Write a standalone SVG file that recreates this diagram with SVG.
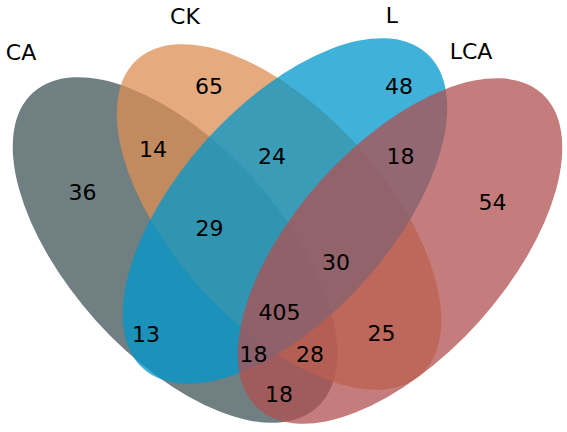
<svg xmlns="http://www.w3.org/2000/svg" width="567" height="432" viewBox="0 0 567 432">
<style>
  text { font-family: "DejaVu Sans", "Liberation Sans", sans-serif; font-size: 22px; fill: #000; text-anchor: middle; }
  .set { fill-opacity: 0.75; stroke: none; }
</style>
<rect width="567" height="432" fill="#fff"/>
<g id="set-CA"><ellipse class="set" cx="175" cy="250" rx="212" ry="106" transform="rotate(48 175 250)" fill="#3f5458"/></g>
<g id="set-CK"><ellipse class="set" cx="279" cy="217" rx="212" ry="106" transform="rotate(48 279 217)" fill="#dc8d53"/></g>
<g id="set-L"><ellipse class="set" cx="285" cy="211" rx="212" ry="106" transform="rotate(-48 285 211)" fill="#0097cb"/></g>
<g id="set-LCA"><ellipse class="set" cx="400" cy="251" rx="212" ry="106" transform="rotate(-48 400 251)" fill="#b05050"/></g>
<g id="labels">
  <text x="21" y="60">CA</text>
  <text x="185" y="24">CK</text>
  <text x="392" y="23">L</text>
  <text x="471" y="59">LCA</text>
</g>
<g id="counts">
  <text x="209" y="94">65</text>
  <text x="153" y="157">14</text>
  <text x="82.5" y="200">36</text>
  <text x="272" y="164">24</text>
  <text x="209.5" y="236">29</text>
  <text x="399" y="94">48</text>
  <text x="400.5" y="164">18</text>
  <text x="492.5" y="210">54</text>
  <text x="336" y="270">30</text>
  <text x="279.5" y="320">405</text>
  <text x="146" y="342">13</text>
  <text x="253.5" y="362">18</text>
  <text x="310" y="362">28</text>
  <text x="381.5" y="341">25</text>
  <text x="279" y="402">18</text>
</g>
</svg>
